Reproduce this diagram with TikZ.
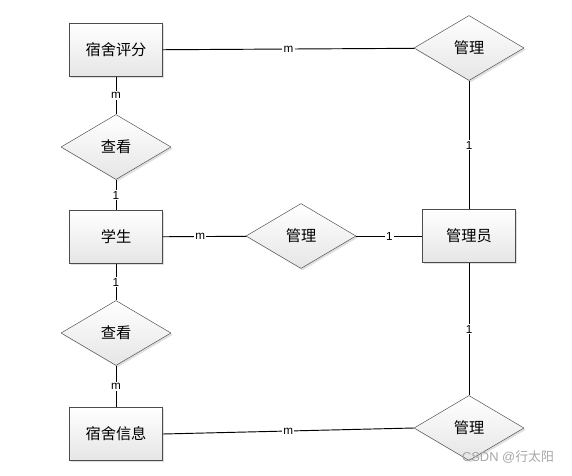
\documentclass[tikz,border=0pt]{standalone}
\usepackage{fontspec}
\setmainfont{Liberation Sans}
\newfontfamily\cjk{Noto Sans CJK SC}
\usepackage{tikz}
\usetikzlibrary{shapes.geometric,shadows}

\begin{document}
\begin{tikzpicture}[x=0.03cm, y=-0.03cm,
	ent/.style={draw=black!70, rectangle, minimum width=2.79cm, minimum height=1.59cm,
		top color=white, bottom color=black!10, drop shadow={shadow xshift=1.5pt, shadow yshift=-1.5pt, opacity=0.25},
		font=\cjk\fontsize{13}{0}\selectfont},
	rel/.style={draw=black!70, diamond, inner sep=0pt, minimum width=3.3cm, minimum height=1.95cm,
		top color=white, bottom color=black!10, drop shadow={shadow xshift=1.5pt, shadow yshift=-1.5pt, opacity=0.25},
		font=\cjk\fontsize{13}{0}\selectfont},
	card/.style={fill=white, inner sep=1pt, font=\fontsize{10}{0}\selectfont},
	link/.style={draw, thick}]

	\useasboundingbox (0,0) rectangle (572,475);

	\node (pingfen) at (116,50) [ent] {宿舍评分};
	\node (xuesheng) at (116,237) [ent] {学生};
	\node (xinxi) at (116,434) [ent] {宿舍信息};
	\node (guanliyuan) at (469,236) [ent] {管理员};

	\node (chakan_1) at (116,147) [rel] {查看};
	\node (chakan_2) at (116,333) [rel] {查看};
	\node (guanli_1) at (469,48) [rel] {管理};
	\node (guanli_2) at (301,236) [rel] {管理};
	\node (guanli_3) at (469,428) [rel] {管理};

	\draw[link] (pingfen) -- node[card] {m} (guanli_1);
	\draw[link] (guanli_1) -- node[card] {1} (guanliyuan);
	\draw[link] (pingfen) -- node[card] {m} (chakan_1);
	\draw[link] (chakan_1) -- node[card] {1} (xuesheng);
	\draw[link] (xuesheng) -- node[card, pos=0.45] {m} (guanli_2);
	\draw[link] (guanli_2) -- node[card] {1} (guanliyuan);
	\draw[link] (xuesheng) -- node[card] {1} (chakan_2);
	\draw[link] (chakan_2) -- node[card] {m} (xinxi);
	\draw[link] (xinxi.east) -- node[card] {m} (guanli_3.west);
	\draw[link] (guanli_3) -- node[card] {1} (guanliyuan);

	\node (watermark) at (508,457) [text=black!35, font=\fontsize{11}{0}\selectfont] {CSDN @{\cjk 行太阳}};
\end{tikzpicture}
\end{document}
